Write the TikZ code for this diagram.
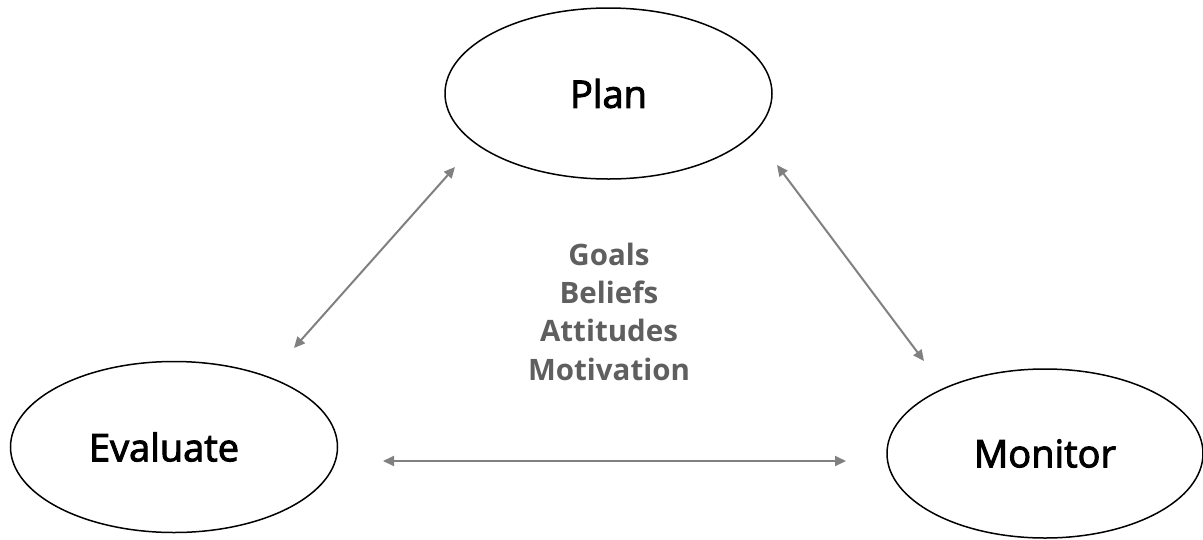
\documentclass[tikz,border=0pt]{standalone}
\usepackage{fontspec}
\setmainfont{Open Sans}
\newfontfamily\labelfont{Open Sans}[FakeBold=2.6]
\usetikzlibrary{shapes.geometric,arrows.meta}
\definecolor{arrowgray}{HTML}{808080}
\definecolor{notegray}{HTML}{5F5F5F}
\begin{document}
\begin{tikzpicture}[x=1pt,y=-1pt,
  stage/.style={ellipse, draw=black, line width=1.5pt, inner sep=0pt,
    minimum width=327pt, minimum height=171pt,
    font=\labelfont\fontsize{38}{42}\selectfont},
  link/.style={draw=arrowgray, line width=2pt,
    {Triangle[length=11pt,width=10pt]}-{Triangle[length=11pt,width=10pt]}},
  note/.style={text=notegray, align=center, inner sep=0pt,
    font=\fontsize{29.5}{38.3}\selectfont\bfseries}]
\useasboundingbox (0,0) rectangle (1203,539);
\node[stage] (plan) at (608.5,93.5) {Plan};
\node[stage] (evaluate) at (174,447) {\hspace*{-20pt}Evaluate};
\node[stage, minimum width=316pt, minimum height=169pt] (monitor) at (1045,453.5) {Monitor};
\node[note, anchor=base] (notes) at (609,380) {Goals\\Beliefs\\Attitudes\\Motivation};
\coordinate (pe1) at (455,167);
\coordinate (pe2) at (294,348);
\coordinate (pm1) at (777,165);
\coordinate (pm2) at (924,361);
\coordinate (em1) at (383,461);
\coordinate (em2) at (846,461);
\draw[link] (pe1) -- (pe2);
\draw[link] (pm1) -- (pm2);
\draw[link] (em1) -- (em2);
\end{tikzpicture}
\end{document}
